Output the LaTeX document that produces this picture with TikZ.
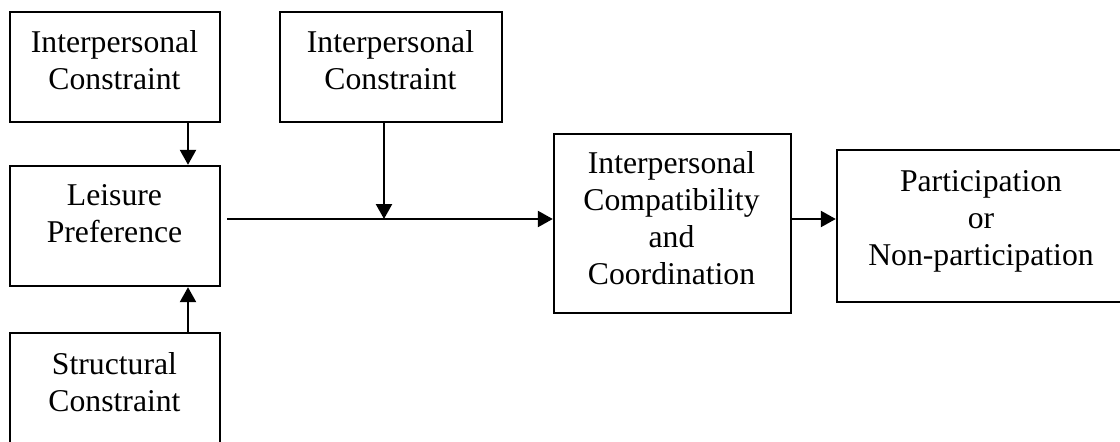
\documentclass[tikz,border=0pt]{standalone}
\usepackage{fontspec}
\setmainfont{Liberation Serif}
\usetikzlibrary{arrows.meta}
\begin{document}
\begin{tikzpicture}[x=1pt,y=-1pt,
  box/.style={draw, line width=2.4pt, inner sep=0pt},
  lbl/.style={font=\fontsize{31.7}{37}\selectfont, align=center, anchor=base, inner sep=0pt},
  arr/.style={line width=2.4pt, -{Triangle[length=15pt,width=16pt]}}]
\clip (0,0) rectangle (1120,442);
\fill[white] (0,0) rectangle (1120,442);

% boxes
\node[box, minimum width=210pt, minimum height=110pt] (ic1) at (115,67) {};
\node[box, minimum width=222pt, minimum height=110pt] (ic2) at (391,67) {};
\node[box, minimum width=210pt, minimum height=120pt] (lp)  at (115,226) {};
\node[box, minimum width=210pt, minimum height=112pt] (sc)  at (115,389) {};
\node[box, minimum width=237pt, minimum height=179pt] (cc)  at (672.5,223.5) {};
\node[box, minimum width=288pt, minimum height=152pt] (pp)  at (981,226) {};

% box texts (placed by the baseline of their last line)
\node[lbl] (ic1t) at (114.5,89) {Interpersonal\\Constraint};
\node[lbl] (ic2t) at (390.5,89) {Interpersonal\\Constraint};
\node[lbl] (lpt)  at (114.5,242) {Leisure\\Preference};
\node[lbl] (sct)  at (114.5,411) {Structural\\Constraint};
\node[lbl] (cct)  at (671.5,284) {Interpersonal\\Compatibility\\and\\Coordination};
\node[lbl] (ppt)  at (981,265) {Participation\\or\\Non-participation};

% connector guides
\coordinate (colL) at (188,0);
\coordinate (row) at (0,219);
\coordinate (join) at (384,219);

% connectors
\draw[arr] (ic1.south -| colL) -- (lp.north -| colL);
\draw[arr] (sc.north -| colL) -- (lp.south -| colL);
\draw[arr, shorten <=6pt] (lp.east |- row) -- (cc.west |- row);
\draw[arr] (ic2.south -| join) -- (join);
\draw[arr] (cc.east |- row) -- (pp.west |- row);
\end{tikzpicture}
\end{document}
